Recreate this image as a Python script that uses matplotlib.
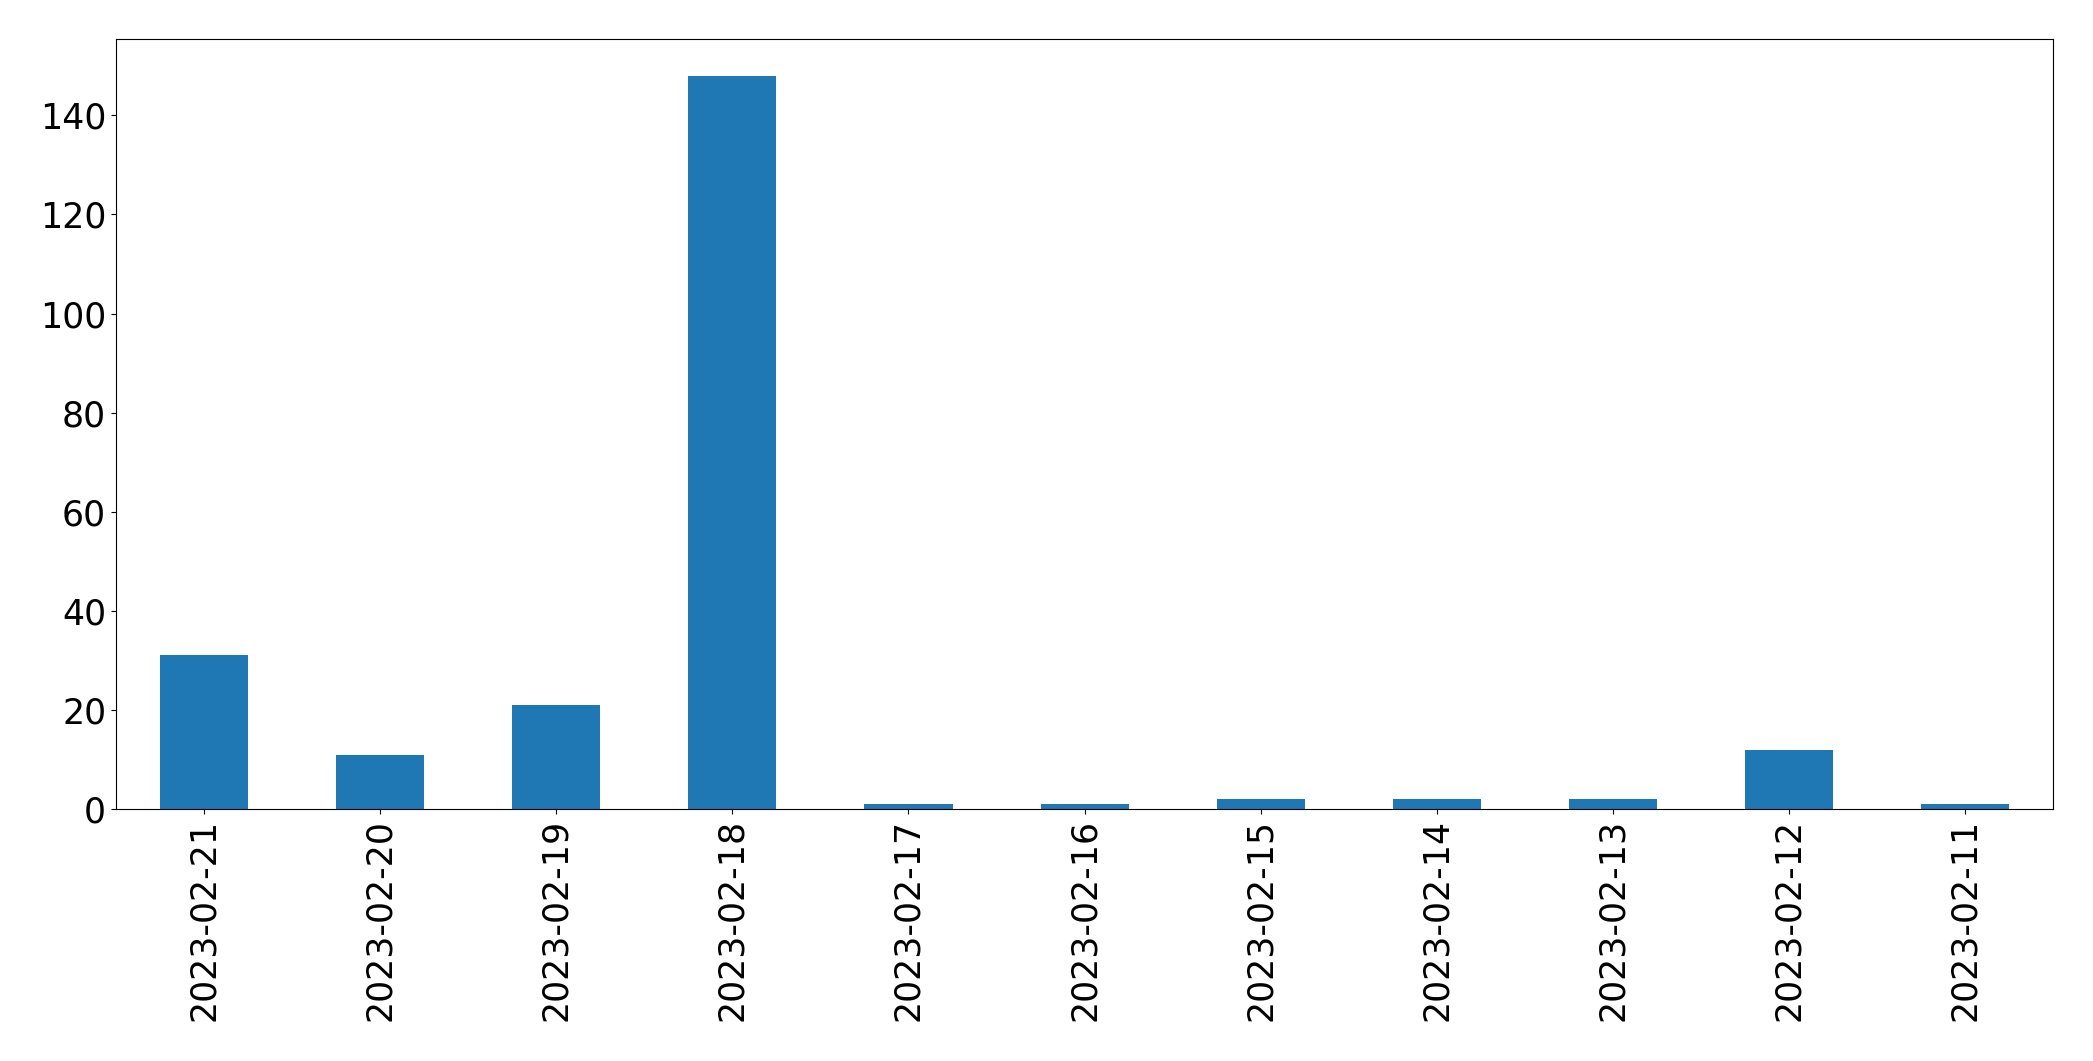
import matplotlib
matplotlib.use("Agg")
import matplotlib.pyplot as plt
import pandas as pd

dates = ["2023-02-21", "2023-02-20", "2023-02-19", "2023-02-18", "2023-02-17",
         "2023-02-16", "2023-02-15", "2023-02-14", "2023-02-13", "2023-02-12",
         "2023-02-11"]
counts = [31, 11, 21, 148, 1, 1, 2, 2, 2, 12, 1]

if __name__ == "__main__":
    s = pd.Series(counts, index=dates)

    fig = plt.figure(figsize=(20.93, 10.61), dpi=100)
    ax = fig.add_subplot(111)
    s.plot(kind="bar", ax=ax, color="#1f77b4", fontsize=25)
    ax.set_xlabel("")

    fig.subplots_adjust(left=0.0554, right=0.981, top=0.9632, bottom=0.2375)
    fig.savefig("out.png", dpi=100)
